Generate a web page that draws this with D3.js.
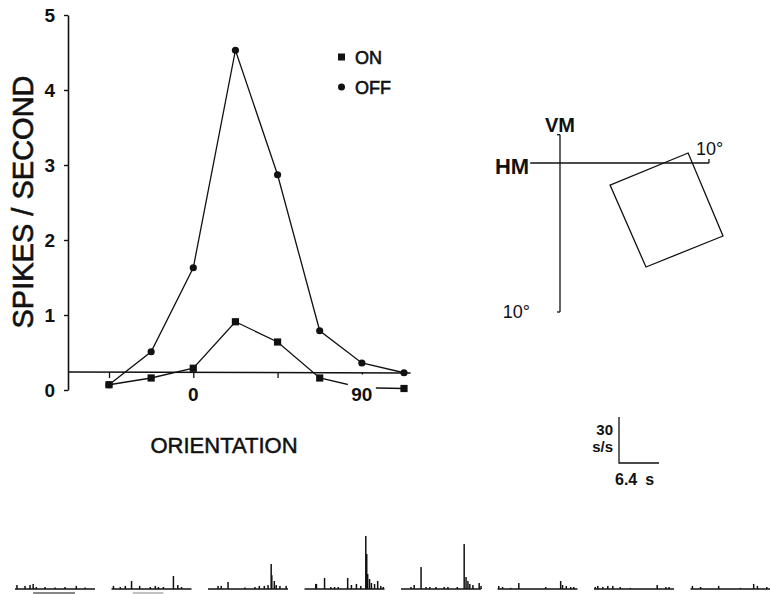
<!DOCTYPE html>
<html><head><meta charset="utf-8">
<script src="https://cdn.jsdelivr.net/npm/d3@7"></script>
<style>
html,body{margin:0;padding:0;background:#fff;}
svg{display:block;font-family:"Liberation Sans",Arial,Helvetica,sans-serif;}
</style></head>
<body>
<svg id="chart" width="770" height="594"></svg>
<script>
// ---------- data ----------
const orientations = [-45, -22.5, 0, 22.5, 45, 67.5, 90, 112.5];
const onRates  = [0.07, 0.16, 0.29, 0.91, 0.64, 0.16, 0.03, 0.02];
const offRates = [0.07, 0.51, 1.63, 4.53, 2.87, 0.79, 0.36, 0.23];
const spontaneousRate = 0.24;
const yTickValues = [0, 1, 2, 3, 4, 5];
const xTickValues = [-45, 0, 45, 90];
const xTickLabels = ["", "0", "", "90"];
const legendItems = ["ON", "OFF"];

// receptive field map (degrees of visual field, x right, y up)
const hmExtent = [-2, 10];      // horizontal meridian
const vmExtent = [1.9, -10];    // vertical meridian
const rfCorners = [[3.36, -1.48], [8.6, 0.67], [10.94, -4.9], [5.77, -6.98]];

// peristimulus histograms: [time s, rate spikes/s]
const sweepDuration = 12.8;
const spikeTrains = [
  [[0.3,2.6],[1.6,2],[2.4,2.6],[2.9,3.3],[3.4,1.3],[4.8,1.3],[6.4,1],[8.0,1.3],[9.8,2],[11.2,1]],
  [[0.3,2],[1.4,1.3],[2.2,2],[3.2,5.2],[4.5,2],[6.2,1.3],[7.0,2],[7.5,1.3],[8.3,1.3],[9.9,8.5],[10.6,2.6],[11.2,1.3]],
  [[1.6,2],[2.1,2],[3.2,4.6],[5.9,1],[7.5,1.3],[8.2,2],[9.0,2],[9.6,2.6],[10.1,16.3],[10.2,9],[10.6,5.2],[10.9,2.6],[11.5,2],[12.5,2]],
  [[1.8,3.3],[1.9,3.3],[3.2,7.2],[4.2,1.3],[4.8,1.3],[5.4,1.3],[6.9,7.2],[7.5,2.6],[8.3,3.3],[9.0,2],[9.8,34.6],[9.95,22.8],[10.1,9.8],[10.4,6.5],[10.7,3.9],[11.2,3.3],[11.7,5.2],[12.2,2],[12.6,1.3]],
  [[1.6,1.3],[2.1,2.6],[3.2,14.3],[4.0,1.3],[4.6,1.3],[5.6,1.3],[6.9,1.3],[7.5,1.3],[9.0,1.3],[10.1,29.3],[10.4,7.8],[10.7,5.2],[11.0,3.3],[11.5,2.6],[12.5,3.9],[12.8,2]],
  [[0.2,2],[0.8,1.3],[2.1,0.7],[3.4,3.9],[7.7,1.3],[10.1,5.2],[10.4,2.6],[11.0,2],[11.7,1.3],[12.2,1.3]],
  [[0.2,1.3],[0.6,2],[1.4,1.3],[2.2,2],[3.0,2],[4.2,1.3],[5.8,0.7],[10.1,2.6],[11.5,1.3],[12.0,1.3]],
  [[0.3,2],[1.6,1.3],[4.5,2],[8.0,0.7],[10.1,3.3],[10.7,2],[12.2,1.3]]
];
const stimulusMarks = [[0, 2.9, 9.6, "#111"], [1, 3.4, 8.3, "#999"]];
const scaleBarRate = 30, scaleBarTime = 6.4;

// ---------- drawing ----------
const svg = d3.select("#chart");
const ink = "#111";

const x = d3.scaleLinear().domain([-45, 112.5]).range([109, 404]);
const y = d3.scaleLinear().domain([0, 5]).range([390, 15]);
const axisX = 68;

// y axis
const gy = svg.append("g").attr("transform", `translate(${axisX},0)`)
  .call(d3.axisLeft(y).tickValues(yTickValues).tickFormat(d3.format("d")).tickSize(4).tickSizeOuter(0).tickPadding(9));
gy.select(".domain").attr("stroke", ink).attr("stroke-width", 1.6);
gy.selectAll(".tick line").attr("stroke", ink).attr("stroke-width", 1.4);
gy.selectAll(".tick text").attr("font-size", 19).attr("font-weight", "bold").attr("fill", ink)
  .attr("font-family", "Liberation Sans, Arial, sans-serif");

// baseline (spontaneous) axis
const baseY = y(spontaneousRate);
const gx = svg.append("g").attr("transform", `translate(0,${baseY})`)
  .call(d3.axisBottom(x).tickValues(xTickValues).tickFormat(() => "").tickSize(6).tickSizeOuter(0));
gx.select(".domain").remove();
gx.selectAll(".tick line").attr("stroke", ink).attr("stroke-width", 1.3);
svg.append("line").attr("x1", axisX).attr("x2", x(116)).attr("y1", baseY).attr("y2", baseY + 1)
  .attr("stroke", ink).attr("stroke-width", 1.6);

// lines
const line = d3.line().x((d, i) => x(orientations[i])).y(d => y(d));
svg.append("path").datum(offRates).attr("d", line).attr("fill", "none").attr("stroke", ink).attr("stroke-width", 1.3);
svg.append("path").datum(onRates).attr("d", line).attr("fill", "none").attr("stroke", ink).attr("stroke-width", 1.3);

svg.selectAll("circle.off").data(offRates).join("circle").attr("class", "off")
  .attr("cx", (d, i) => x(orientations[i])).attr("cy", d => y(d)).attr("r", 3.6).attr("fill", ink);
svg.selectAll("rect.on").data(onRates).join("rect").attr("class", "on")
  .attr("x", (d, i) => x(orientations[i]) - 3.6).attr("y", d => y(d) - 3.6)
  .attr("width", 7.2).attr("height", 7.2).attr("fill", ink);

// x tick labels (with white background as in the original)
xTickValues.forEach((v, i) => {
  const lab = xTickLabels[i];
  if (!lab) return;
  const w = lab.length * 11 + 4;
  if (lab === "90") {
    svg.append("rect").attr("x", x(v) - w / 2 - 1).attr("y", baseY + 2.5).attr("width", w + 2).attr("height", 28).attr("fill", "#fff");
  }
  svg.append("text").attr("x", x(v)).attr("y", baseY + 29).attr("text-anchor", "middle")
    .attr("font-size", 19).attr("font-weight", "bold").attr("fill", ink).text(lab);
});

// axis titles (medium weight imitated with a thin stroke)
svg.append("text").attr("transform", `translate(33,${202}) rotate(-90)`).attr("text-anchor", "middle")
  .attr("font-size", 29).attr("fill", ink).attr("stroke", ink).attr("stroke-width", 0.6).text("SPIKES / SECOND");
svg.append("text").attr("x", 224).attr("y", 453).attr("text-anchor", "middle")
  .attr("font-size", 22).attr("fill", ink).attr("stroke", ink).attr("stroke-width", 0.5).text("ORIENTATION");

// legend
legendItems.forEach((name, i) => {
  const ly = 57 + i * 30;
  if (name === "ON") svg.append("rect").attr("x", 338).attr("y", ly - 3.5).attr("width", 7).attr("height", 7).attr("fill", ink);
  else svg.append("circle").attr("cx", 341.5).attr("cy", ly).attr("r", 3.5).attr("fill", ink);
  svg.append("text").attr("x", 355).attr("y", ly + 6.5).attr("font-size", 18).attr("fill", ink)
    .attr("stroke", ink).attr("stroke-width", 0.6).text(name);
});

// ---------- receptive field map ----------
const deg = 14.9;
const fx = d3.scaleLinear().domain([0, 1]).range([560, 560 + deg]);
const fy = d3.scaleLinear().domain([0, 1]).range([163, 163 - deg]);
const fg = svg.append("g").attr("stroke", ink).attr("stroke-width", 1.3).attr("fill", "none");
fg.append("line").attr("x1", fx(hmExtent[0])).attr("x2", fx(hmExtent[1])).attr("y1", fy(0)).attr("y2", fy(0));
fg.append("line").attr("x1", fx(hmExtent[1])).attr("x2", fx(hmExtent[1])).attr("y1", fy(0)).attr("y2", fy(0) - 4);
fg.append("line").attr("x1", fx(0)).attr("x2", fx(0)).attr("y1", fy(vmExtent[0])).attr("y2", fy(vmExtent[1]));
fg.append("line").attr("x1", fx(0)).attr("x2", fx(0) - 3).attr("y1", fy(vmExtent[0])).attr("y2", fy(vmExtent[0]));
fg.append("line").attr("x1", fx(0)).attr("x2", fx(0) - 3).attr("y1", fy(vmExtent[1])).attr("y2", fy(vmExtent[1]));
fg.append("path").attr("d", d3.line().x(d => fx(d[0])).y(d => fy(d[1])).curve(d3.curveLinearClosed)(rfCorners));

svg.append("text").attr("x", fx(0)).attr("y", 132).attr("text-anchor", "middle")
  .attr("font-size", 20).attr("font-weight", "bold").attr("fill", ink).text("VM");
svg.append("text").attr("x", fx(hmExtent[0]) - 1).attr("y", 174).attr("text-anchor", "end")
  .attr("font-size", 22).attr("font-weight", "bold").attr("fill", ink).text("HM");
svg.append("text").attr("x", 696).attr("y", 155).attr("font-size", 18).attr("fill", ink).text("10°");
svg.append("text").attr("x", 530).attr("y", 318).attr("text-anchor", "end").attr("font-size", 18).attr("fill", ink).text("10°");

// ---------- spike histograms ----------
const band = d3.scaleBand().domain(orientations).range([15, 770.5]).paddingInner(0.171).paddingOuter(0);
const t = d3.scaleLinear().domain([0, sweepDuration]).range([0, band.bandwidth()]);
const r = d3.scaleLinear().domain([0, 30]).range([0, 46]);
const trainBase = 589;

spikeTrains.forEach((train, i) => {
  const x0 = band(orientations[i]);
  const g = svg.append("g").attr("transform", `translate(${x0},${trainBase})`);
  g.append("line").attr("x1", t(0)).attr("x2", t(sweepDuration)).attr("y1", 0).attr("y2", 0)
    .attr("stroke", ink).attr("stroke-width", 1.5);
  g.selectAll("rect").data(train).join("rect")
    .attr("x", d => t(d[0]) - 0.7).attr("width", 1.5)
    .attr("y", d => -r(d[1])).attr("height", d => r(d[1])).attr("fill", ink);
});
stimulusMarks.forEach(([i, a, b, c]) => {
  const x0 = band(orientations[i]);
  svg.append("line").attr("x1", x0 + t(a)).attr("x2", x0 + t(b)).attr("y1", 593).attr("y2", 593)
    .attr("stroke", c).attr("stroke-width", 1.2);
});

// scale bar
const sbX = 619, sbY = 463;
svg.append("path").attr("d", `M${sbX},${sbY - r(scaleBarRate)}V${sbY}H${sbX + t(scaleBarTime)}`)
  .attr("fill", "none").attr("stroke", ink).attr("stroke-width", 1.3);
svg.append("text").attr("x", sbX - 6).attr("y", 435).attr("text-anchor", "end").attr("font-size", 15).attr("font-weight", "bold").attr("fill", ink).text(scaleBarRate);
svg.append("text").attr("x", sbX - 6).attr("y", 452).attr("text-anchor", "end").attr("font-size", 15).attr("font-weight", "bold").attr("fill", ink).text("s/s");
const sbt = svg.append("text").attr("x", sbX - 4).attr("y", 485).attr("font-size", 16).attr("font-weight", "bold").attr("fill", ink);
sbt.append("tspan").text(scaleBarTime.toFixed(1));
sbt.append("tspan").attr("dx", 8).text("s");
</script>
</body></html>
